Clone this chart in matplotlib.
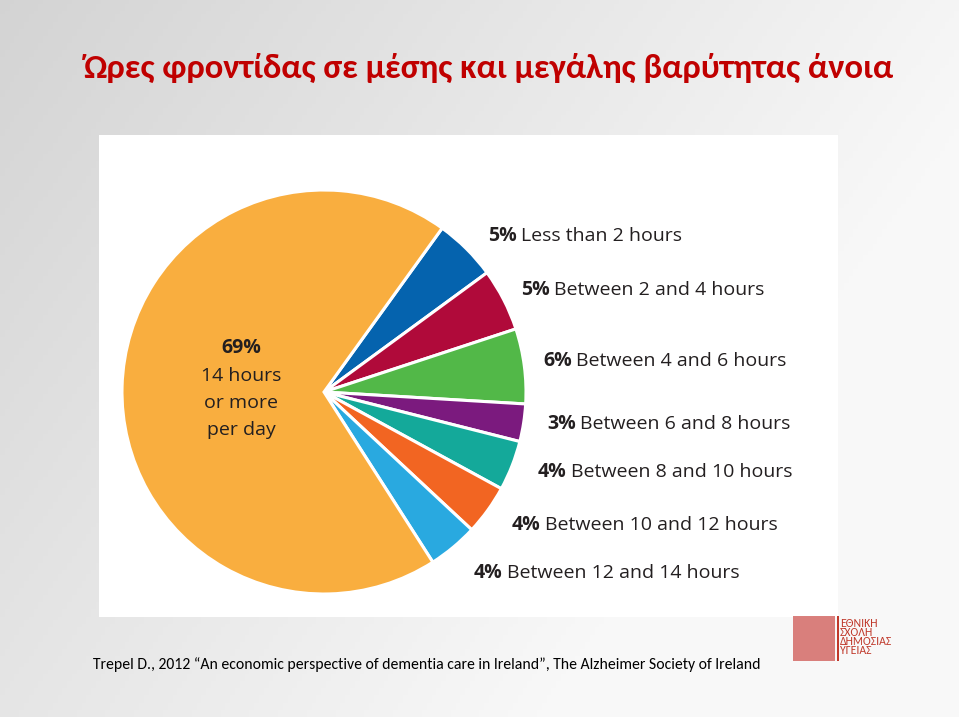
import numpy as np
import matplotlib
matplotlib.use("Agg")
import matplotlib.pyplot as plt
from matplotlib.patches import Rectangle

# ---- data ----
categories = ["Less than 2 hours", "Between 2 and 4 hours", "Between 4 and 6 hours",
              "Between 6 and 8 hours", "Between 8 and 10 hours", "Between 10 and 12 hours",
              "Between 12 and 14 hours", "14 hours or more per day"]
values = [5, 5, 6, 3, 4, 4, 4, 69]
colors = ["#0563AE", "#B00A3A", "#52B848", "#7B1A7E", "#14A99A", "#F26522", "#29A9E0", "#F9AE3F"]
inner_lines = ["14 hours", "or more", "per day"]
title = "Ώρες φροντίδας σε μέσης και μεγάλης βαρύτητας άνοια"
citation = ("Trepel D., 2012 \u201cAn economic perspective of dementia care in Ireland\u201d, "
            "The Alzheimer Society of Ireland")
logo_lines = ["ΕΘΝΙΚΗ", "ΣΧΟΛΗ", "ΔΗΜΟΣΙΑΣ", "ΥΓΕΙΑΣ"]

# label positions (pixels, left x, center y) for the seven small slices
label_pos = [(488, 236), (521, 290), (543, 361), (547, 424), (538, 472), (512, 525), (474, 573)]

W, H = 959, 717
fig = plt.figure(figsize=(W / 100, H / 100), dpi=100)
renderer = fig.canvas.get_renderer()

def fx(x):
    return x / W

def fy(y):
    return 1 - y / H

def fit_text(t, target_w):
    w = t.get_window_extent(renderer).width
    t.set_fontsize(t.get_fontsize() * target_w / w)

# background gradient
bg = fig.add_axes([0, 0, 1, 1])
xx, yy = np.meshgrid(np.linspace(0, 1, 200), np.linspace(0, 1, 200))
val = 0.83 + 0.13 * xx + 0.07 * yy
val = np.clip(val, 0, 0.975)
bg.imshow(np.dstack([val, val, val]), extent=[0, 1, 0, 1], origin="upper", aspect="auto")
bg.set_xlim(0, 1)
bg.set_ylim(0, 1)
bg.axis("off")

# white panel
fig.patches.append(Rectangle((fx(99), fy(617)), fx(838) - fx(99), fy(135) - fy(617),
                             transform=fig.transFigure, facecolor="white", edgecolor="none", zorder=1))

# pie
cx, cy, R = 324, 392, 202
ax = fig.add_axes([fx(cx - R), fy(cy + R), 2 * R / W, 2 * R / H])
ax.set_zorder(2)
ax.pie(values, colors=colors, startangle=54.2, counterclock=False,
       wedgeprops=dict(edgecolor="white", linewidth=2.2))
ax.set_xlim(-1.0, 1.0)
ax.set_ylim(-1.0, 1.0)
ax.set_aspect("auto")
ax.axis("off")

lab_font = ["Open Sans", "DejaVu Sans"]
txt_col = "#231F20"
for (x, y), v, cat in zip(label_pos, values[:7], categories[:7]):
    t = fig.text(fx(x), fy(y), f"{v}%", fontsize=14, fontweight="bold", family=lab_font,
                 color=txt_col, ha="left", va="center", zorder=5)
    bb = t.get_window_extent(renderer)
    fig.text(bb.x1 / W + fx(4), fy(y), cat, fontsize=14, family=lab_font,
             color=txt_col, ha="left", va="center", zorder=5)

# inner label
fig.text(fx(241), fy(348), f"{values[7]}%", fontsize=14, fontweight="bold", family=lab_font,
         color=txt_col, ha="center", va="center", zorder=5)
for i, line in enumerate(inner_lines):
    fig.text(fx(241), fy(376 + 27 * i), line, fontsize=14, family=lab_font,
             color=txt_col, ha="center", va="center", zorder=5)

cal = ["Carlito", "Open Sans", "DejaVu Sans"]
# title
tt = fig.text(fx(84), fy(78), title, fontsize=22, color="#C00000",
              family=cal, fontweight="bold", ha="left", va="baseline", zorder=5)
fit_text(tt, 809)

# citation
ct = fig.text(fx(93), fy(665), citation, fontsize=11.4, color="black", family=cal,
              ha="left", va="center", zorder=5)
fit_text(ct, 669)

# logo (simplified)
fig.patches.append(Rectangle((fx(793), fy(661)), fx(42), fy(616) - fy(661),
                             transform=fig.transFigure, facecolor="#D46A66", alpha=0.85,
                             edgecolor="none", zorder=3))
fig.patches.append(Rectangle((fx(837), fy(661)), fx(1.5), fy(616) - fy(661),
                             transform=fig.transFigure, facecolor="#C0392B",
                             edgecolor="none", zorder=3))
fig.text(fx(840), fy(618), "\n".join(logo_lines), fontsize=8.5, color="#C0392B",
         family=cal, ha="left", va="top", linespacing=0.78, zorder=5)

fig.savefig("out.png", dpi=100)
